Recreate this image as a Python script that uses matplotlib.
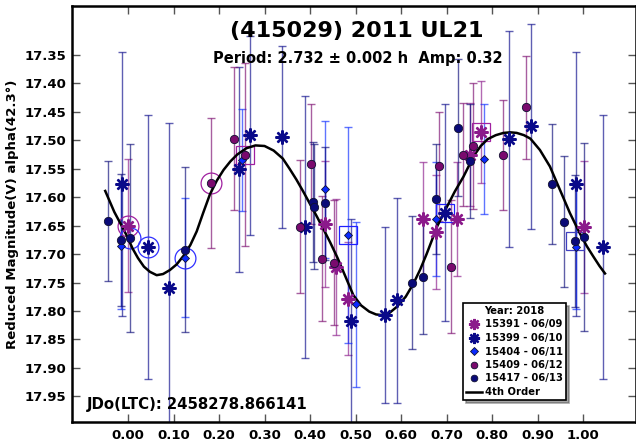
import numpy as np
import matplotlib.pyplot as plt

plt.rcParams['font.family'] = ['DejaVu Sans']
plt.rcParams['font.weight'] = 'bold'

# session 15391 - 06/09
ph_15391 = [0.001, 0.432, 0.456, 0.483, 0.649, 0.676, 0.722, 0.752, 0.775, 1.001]
mag_15391 = [17.650, 17.647, 17.723, 17.778, 17.639, 17.661, 17.638, 17.525, 17.485, 17.652]
err_15391 = [0.117, 0.11, 0.12, 0.10, 0.10, 0.10, 0.10, 0.09, 0.09, 0.116]

# session 15399 - 06/10
ph_15399 = [-0.014, 0.043, 0.091, 0.243, 0.268, 0.338, 0.389, 0.490, 0.565, 0.590,
            0.697, 0.836, 0.885, 0.985, 1.043]
mag_15399 = [17.577, 17.687, 17.759, 17.551, 17.491, 17.494, 17.652, 17.818, 17.807, 17.781,
             17.627, 17.498, 17.475, 17.576, 17.687]
err_15399 = [0.232, 0.232, 0.29, 0.18, 0.175, 0.16, 0.23, 0.18, 0.155, 0.18,
             0.19, 0.19, 0.18, 0.232, 0.232]

# session 15404 - 06/11
ph_15404 = [-0.015, 0.125, 0.250, 0.432, 0.483, 0.501, 0.677, 0.783, 0.985]
mag_15404 = [17.686, 17.706, 17.535, 17.586, 17.667, 17.788, 17.638, 17.533, 17.687]
err_15404 = [0.11, 0.105, 0.09, 0.12, 0.19, 0.145, 0.10, 0.096, 0.11]

# session 15409 - 06/12
ph_15409 = [0.182, 0.232, 0.257, 0.378, 0.401, 0.427, 0.453, 0.684, 0.710, 0.735,
            0.759, 0.823, 0.875]
mag_15409 = [17.575, 17.497, 17.525, 17.652, 17.542, 17.708, 17.715, 17.546, 17.722, 17.525,
             17.510, 17.526, 17.442]
err_15409 = [0.115, 0.125, 0.16, 0.117, 0.105, 0.11, 0.11, 0.095, 0.117, 0.09,
             0.11, 0.096, 0.09]

# session 15417 - 06/13
ph_15417 = [-0.043, -0.015, 0.004, 0.125, 0.407, 0.409, 0.432, 0.623, 0.649, 0.676,
            0.726, 0.752, 0.931, 0.958, 0.982, 1.002]
mag_15417 = [17.642, 17.675, 17.672, 17.692, 17.608, 17.617, 17.611, 17.750, 17.740, 17.603,
             17.478, 17.536, 17.577, 17.643, 17.677, 17.670]
err_15417 = [0.105, 0.116, 0.165, 0.145, 0.105, 0.11, 0.10, 0.117, 0.10, 0.097,
             0.12, 0.10, 0.105, 0.115, 0.116, 0.165]

# 4th order fit
fit_ph = [-0.05, -0.03, -0.01, 0.0, 0.01, 0.022, 0.035, 0.048, 0.063, 0.077, 0.092, 0.107,
          0.122, 0.137, 0.151, 0.165, 0.18, 0.195, 0.21, 0.225, 0.24, 0.26, 0.28, 0.30,
          0.32, 0.34, 0.355, 0.37, 0.385, 0.40, 0.415, 0.43, 0.444, 0.46, 0.477, 0.495,
          0.512, 0.53, 0.545, 0.557, 0.575, 0.59, 0.61, 0.627, 0.642, 0.656, 0.668, 0.68,
          0.70, 0.718, 0.737, 0.76, 0.775, 0.79, 0.808, 0.825, 0.84, 0.854, 0.87, 0.884,
          0.905, 0.927, 0.949, 0.971, 0.993, 1.008, 1.023, 1.036, 1.048]
fit_mag = [17.589, 17.626, 17.656, 17.672, 17.690, 17.707, 17.722, 17.731, 17.737, 17.735,
           17.728, 17.718, 17.703, 17.684, 17.660, 17.628, 17.595, 17.571, 17.552, 17.537,
           17.525, 17.514, 17.509, 17.510, 17.518, 17.532, 17.550, 17.569, 17.590, 17.612,
           17.634, 17.657, 17.679, 17.706, 17.738, 17.772, 17.790, 17.801, 17.806, 17.807,
           17.803, 17.793, 17.775, 17.752, 17.727, 17.700, 17.675, 17.650, 17.618, 17.590,
           17.564, 17.527, 17.510, 17.498, 17.491, 17.487, 17.486, 17.487, 17.491, 17.497,
           17.517, 17.546, 17.587, 17.628, 17.664, 17.686, 17.705, 17.721, 17.734]

# highlighted points
circ_ph = [0.001, 0.004, 0.043, 0.125, 0.182]
circ_mag = [17.650, 17.672, 17.687, 17.706, 17.575]
circ_col = ['#a020a0', '#3030ff', '#3030ff', '#3030ff', '#a020a0']
sq_ph = [0.257, 0.483, 0.697, 0.775, 0.982]
sq_mag = [17.525, 17.667, 17.627, 17.485, 17.677]
sq_col = ['#a020a0', '#2020ff', '#2020ff', '#a020a0', '#4040c0']

series = [
    ('15391 - 06/09', ph_15391, mag_15391, err_15391, '#8b1a8b', (8, 2, 0), 10),
    ('15399 - 06/10', ph_15399, mag_15399, err_15399, '#0a0a8a', (8, 2, 0), 10),
    ('15404 - 06/11', ph_15404, mag_15404, err_15404, '#0a2aff', 'D', 4.5),
    ('15409 - 06/12', ph_15409, mag_15409, err_15409, '#7a0a6e', 'o', 6),
    ('15417 - 06/13', ph_15417, mag_15417, err_15417, '#0a0a78', 'o', 6),
]

fig = plt.figure(figsize=(6.36, 4.47), dpi=100)
ax = fig.add_axes([72/636, 25/447, 563.5/636, 416/447])

handles = []
for lab, ph, mag, err, col, mk, ms in series:
    ax.errorbar(ph, mag, yerr=err, fmt='none', ecolor=col, alpha=0.65,
                elinewidth=1, capsize=3, capthick=1, zorder=2)
for lab, ph, mag, err, col, mk, ms in series:
    if mk == (8, 2, 0):
        h, = ax.plot(ph, mag, linestyle='none', marker=mk, markersize=ms,
                     color=col, markeredgewidth=1.7, zorder=4, label=lab)
    else:
        h, = ax.plot(ph, mag, linestyle='none', marker=mk, markersize=ms,
                     color=col, markeredgecolor='#101030', markeredgewidth=0.6,
                     zorder=4, label=lab)
    handles.append(h)

for p, m, c in zip(circ_ph, circ_mag, circ_col):
    ax.plot(p, m, marker='o', markersize=15, markerfacecolor='none',
            markeredgecolor=c, markeredgewidth=0.9, zorder=3)
for p, m, c in zip(sq_ph, sq_mag, sq_col):
    ax.plot(p, m, marker='s', markersize=13, markerfacecolor='none',
            markeredgecolor=c, markeredgewidth=0.9, zorder=3)

fit, = ax.plot(fit_ph, fit_mag, color='black', linewidth=1.8, zorder=3, label='4th Order')
handles.append(fit)

ax.set_xlim(-0.123, 1.115)
ax.set_ylim(17.995, 17.264)
ax.set_xticks(np.arange(0, 1.01, 0.1))
ax.set_xticklabels(['%.2f' % v for v in np.arange(0, 1.01, 0.1)])
yt = np.arange(17.35, 17.951, 0.05)
ax.set_yticks(yt)
ax.set_yticklabels(['%.2f' % v for v in yt])
ax.tick_params(direction='in', length=6, width=1, top=True, right=True,
               labelsize=9.5, colors='#555555', labelcolor='black')
ax.tick_params(axis='x', pad=5)
ax.tick_params(axis='y', pad=4)
for s in ax.spines.values():
    s.set_linewidth(1.8)

ax.set_ylabel('Reduced Magnitude(V) alpha(42.3°)', fontsize=9.5, fontweight='bold', labelpad=4)

fig.text(356.5/636, 1 - 31/447, '(415029) 2011 UL21', fontsize=16, fontweight='bold',
         ha='center', va='center')
fig.text(358/636, 1 - 59/447, 'Period: 2.732 ± 0.002 h  Amp: 0.32', fontsize=10.5,
         fontweight='bold', ha='center', va='center')
fig.text(86.5/636, 1 - 405/447, 'JDo(LTC): 2458278.866141', fontsize=10.7,
         fontweight='bold', ha='left', va='center')

leg = ax.legend(handles=handles, title='Year: 2018', loc='upper left',
                bbox_to_anchor=(463/636, 1 - 303/447), bbox_transform=fig.transFigure,
                borderaxespad=0, fontsize=7.2, title_fontproperties={'weight': 'bold', 'size': 7.2},
                fancybox=False, shadow=True, framealpha=1, edgecolor='black',
                handlelength=1.6, handletextpad=0.3, labelspacing=0.35, borderpad=0.3,
                markerscale=0.8)
leg.get_frame().set_linewidth(1.2)

plt.savefig('out.png', dpi=100)
